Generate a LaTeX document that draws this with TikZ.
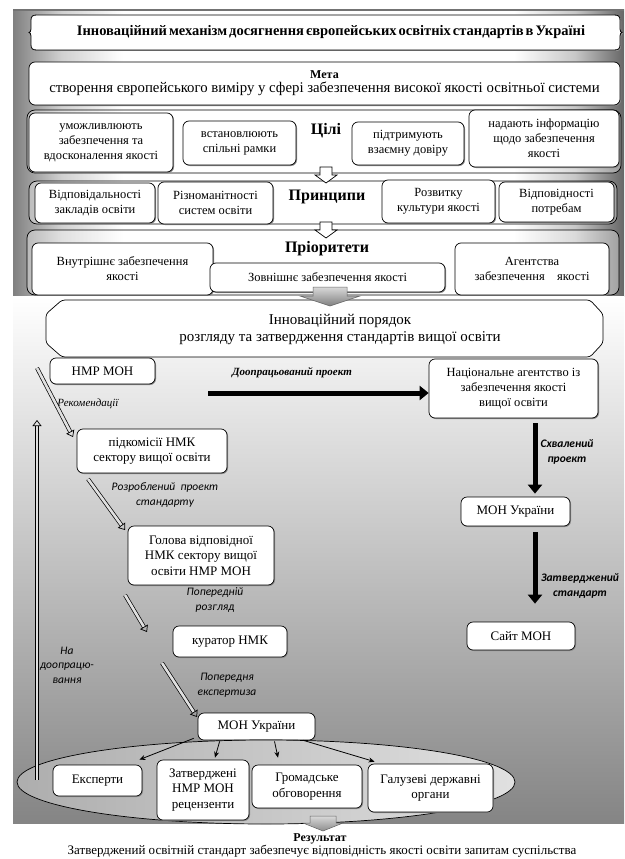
\documentclass[tikz,border=0pt]{standalone}
\usepackage{fontspec}
\setmainfont{Liberation Serif}
\newfontfamily\serifR{Liberation Serif}
\newfontfamily\labfont{Carlito}
\usetikzlibrary{arrows.meta,shadows,calc,shapes.geometric}
\pgfdeclarehorizontalshading{topsh}{100bp}{color(0bp)=(black!50); color(25bp)=(black!50); color(29bp)=(black!18); color(34bp)=(white); color(66bp)=(white); color(71bp)=(black!22); color(75bp)=(black!60); color(100bp)=(black!60)}
\tikzset{
 box/.style={draw, fill=white, rounded corners=6pt, line width=0.7pt, align=center, inner sep=1pt,
   general shadow={fill=black!45, shadow xshift=1pt, shadow yshift=-1pt}},
 framebox/.style={draw, rounded corners=8pt, line width=0.7pt, fill=white, fill opacity=0.35},
 tA/.style={font=\serifR\fontsize{12.5}{15}\selectfont},
 tB/.style={font=\serifR\fontsize{13}{15.5}\selectfont},
 head/.style={font=\serifR\bfseries\fontsize{16}{18}\selectfont},
 lab/.style={font=\labfont\itshape\fontsize{11.5}{14.5}\selectfont, align=center},
 labb/.style={font=\labfont\bfseries\itshape\fontsize{11.5}{15}\selectfont, align=center},
 thickarr/.style={line width=5pt, -{Triangle[length=9pt,width=14pt]}},
 hollowarr/.style={double=black!12, double distance=2.6pt, line width=0.7pt, -{Triangle[open,length=6pt,width=9pt]}},
 thinarr/.style={line width=0.8pt, -{Stealth[length=6pt,width=5pt]}},
}
\newcommand\tightsp{\spaceskip=2pt plus 1pt\relax}
\begin{document}
\begin{tikzpicture}[x=1pt,y=-1pt]
\useasboundingbox (0,0) rectangle (624,859);
\fill[white] (0,0) rectangle (624,859);
% ---------- top panel
\shade[shading=topsh] (13,10) rectangle (624,296);
\draw[black!55, line width=1.5pt] (13,10) -- (624,10);
% title
\draw[fill=white, line width=0.8pt,
   general shadow={fill=black!40, shadow xshift=1pt, shadow yshift=-1pt}]
 (37,15) -- (614,15) .. controls (618,15) and (620,16) .. (620,20) -- (620,29)
 .. controls (620,31) and (621,32.5) .. (622,32.5) .. controls (621,32.5) and (620,34) .. (620,36)
 -- (620,45) .. controls (620,49) and (618,50) .. (614,50) -- (37,50)
 .. controls (33,50) and (31,49) .. (31,45) -- (31,36)
 .. controls (31,34) and (30,32.5) .. (29,32.5) .. controls (30,32.5) and (31,31) .. (31,29)
 -- (31,20) .. controls (31,16) and (33,15) .. (37,15) -- cycle;
\node[font=\serifR\bfseries\fontsize{14.5}{16}\selectfont] (title) at (331,32.5)
 {\tightsp Інноваційний механізм досягнення європейських освітніх стандартів в Україні};
% goal
\node[box, minimum width=591pt, minimum height=43pt, font=\serifR\fontsize{14.8}{14}\selectfont] (meta) at (324.5,83.5)
 {{\bfseries\fontsize{12}{13}\selectfont Мета}\\створення європейського виміру у сфері забезпечення високої якості освітньої системи};
% frames
\path[framebox] (27,110) rectangle (621,173);
\path[framebox] (29,181) rectangle (617,224);
\path[framebox] (27,230) rectangle (619,295);
% Цілі
\node[box, tA, minimum width=144pt, minimum height=59pt] (g1) at (101,142.5) {уможливлюють\\забезпечення та\\вдосконалення якості};
\node[box, tA, minimum width=113pt, minimum height=44pt] (g2) at (239.5,143) {встановлюють\\спільні рамки};
\node[head] (goals) at (326,131) {Цілі};
\node[box, tA, minimum width=112pt, minimum height=43pt] (g3) at (408,143.5) {підтримують\\взаємну довіру};
\node[box, tA, minimum width=150pt, minimum height=57pt] (g4) at (544,138.5) {надають інформацію\\щодо забезпечення\\якості};
\coordinate (ba1) at (326,167);
\draw[fill=white, line width=0.7pt] (ba1) ++(-6,0) -- ++(12,0) -- ++(0,8) -- ++(5,0) -- ++(-11,8) -- ++(-11,-8) -- ++(5,0) -- cycle;
% Принципи
\node[box, tA, minimum width=120pt, minimum height=40pt] (p1) at (95,203) {Відповідальності\\закладів освіти};
\node[box, tA, minimum width=115pt, minimum height=42pt] (p2) at (215.5,203) {Різноманітності\\систем освіти};
\node[head] (princ) at (327,197) {Принципи};
\node[box, tA, minimum width=113pt, minimum height=43pt] (p3) at (438.5,201.5) {Розвитку\\культури якості};
\node[box, tA, minimum width=115pt, minimum height=40pt] (p4) at (556.5,202) {Відповідності\\потребам};
\coordinate (ba2) at (326,222);
\draw[fill=white, line width=0.7pt] (ba2) ++(-6,0) -- ++(12,0) -- ++(0,8) -- ++(5,0) -- ++(-11,8) -- ++(-11,-8) -- ++(5,0) -- cycle;
% Пріоритети
\node[head] (prio) at (327,249) {Пріоритети};
\node[box, tA, minimum width=181pt, minimum height=52pt] (r1) at (122.5,269) {Внутрішнє забезпечення\\якості};
\node[box, tA, minimum width=235pt, minimum height=29pt] (r2) at (327.5,277.5) {Зовнішнє забезпечення якості};
\node[box, tA, minimum width=154pt, minimum height=52pt] (r3) at (532,269) {Агентства\\забезпечення\quad якості};
% ---------- bottom panel
\shade[top color=white, bottom color=black!48] (13,296) rectangle (624,823);
\draw[fill=white, line width=0.7pt, rounded corners=3pt]
 (62,300) -- (590,300) -- (603,314) -- (603,343) -- (590,357) -- (62,357) -- (46,343) -- (46,314) -- cycle;
\node[font=\serifR\fontsize{15}{17}\selectfont, align=center] (proc) at (340,329)
 {Інноваційний порядок\\розгляду та затвердження стандартів вищої освіти};
\coordinate (ba3) at (330,287);
\draw[top color=black!15, bottom color=black!50, line width=0.5pt, draw=black!60]
 (ba3) ++(-17,0) -- ++(34,0) -- ++(0,9) -- ++(13,0) -- ++(-30,10) -- ++(-30,-10) -- ++(13,0) -- cycle;
% left flow
\node[box, tB, minimum width=105pt, minimum height=26pt] (nmr) at (102.5,371) {НМР МОН};
\node[box, tB, minimum width=150pt, minimum height=44pt] (pidk) at (152,451) {підкомісії НМК\\сектору вищої освіти};
\node[box, tB, minimum width=146pt, minimum height=59pt] (holova) at (201,555.5) {Голова відповідної\\НМК сектору вищої\\освіти НМР МОН};
\node[box, tB, minimum width=114pt, minimum height=31pt] (kur) at (230,641.5) {куратор НМК};
\node[box, tB, minimum width=117pt, minimum height=27pt] (mon1) at (256.5,726.5) {МОН України};
% right flow
\node[box, tA, minimum width=169pt, minimum height=59pt] (nat) at (513.5,388.5) {Національне агентство із\\забезпечення якості\\вищої освіти};
\node[box, tB, minimum width=109pt, minimum height=29pt] (mon2) at (515.5,511.5) {МОН України};
\node[box, tB, minimum width=108pt, minimum height=28pt] (sait) at (521,636) {Сайт МОН};
% labels
\node[font=\serifR\bfseries\itshape\fontsize{11}{13}\selectfont] (dopr) at (292,373) {Доопрацьований проект};
\node[font=\serifR\itshape\fontsize{11}{13}\selectfont] (rek) at (88,404) {Рекомендації};
\node[lab] (rozr) at (165,495) {Розроблений\ \ проект\\стандарту};
\node[lab] (poper) at (215,600) {Попередній\\розгляд};
\node[lab] (popexp) at (227,685) {Попередня\\експертиза};
\node[lab] (nadopr) at (67,665) {На\\доопрацю-\\вання};
\node[labb] (skhv) at (567,452) {Схвалений\\проект};
\node[labb] (zatst) at (580,586) {Затверджений\\стандарт};
% thick arrows
\coordinate (h0) at (208,393);
\draw[thickarr] (h0) -- (h0 -| nat.west);
\coordinate (ax) at (535,0);
\draw[thickarr, shorten <=5pt, shorten >=3pt] (nat.south -| ax) -- (mon2.north -| ax);
\draw[thickarr, shorten <=6pt, shorten >=18pt] (mon2.south -| ax) -- (sait.north -| ax);
% ellipse and boxes
\node[ellipse, draw, line width=0.7pt, left color=black!32, right color=black!12, minimum width=498pt, minimum height=84pt] (ell) at (266,782) {};
\node[box, tB, minimum width=89pt, minimum height=31pt] (eksp) at (97.5,780.5) {Експерти};
\node[box, tB, minimum width=92pt, minimum height=60pt] (zatv) at (203,790) {Затверджені\\НМР МОН\\рецензенти};
\node[box, tB, minimum width=110pt, minimum height=43pt] (hrom) at (307,786.5) {Громадське\\обговорення};
\node[box, tB, minimum width=125pt, minimum height=48pt] (haluz) at (430.5,788) {Галузеві державні\\органи};
\draw[thinarr] ($(mon1.south west)+(-4,-2)$) -- ($(eksp.north east)+(-3,-5)$);
\draw[thinarr] ($(mon1.south west)+(22,1)$) -- ($(zatv.north)+(12,-2)$);
\draw[thinarr] ($(mon1.south)+(18,1)$) -- ($(hrom.north)+(-29,-7)$);
\draw[thinarr] ($(mon1.south east)+(-12,0)$) -- ($(haluz.north west)+(7,-2)$);
% hollow arrows
\coordinate (v0) at (37,780); \coordinate (v1) at (37,420);
\draw[hollowarr] (v0) -- (v1);
\coordinate (a1) at (37,368); \coordinate (a1e) at (73,437);
\draw[hollowarr] (a1) -- (a1e);
\coordinate (a2) at (88,479); \coordinate (a2e) at (125,530);
\draw[hollowarr] (a2) -- (a2e);
\coordinate (a3) at (125,595); \coordinate (a3e) at (147,632);
\draw[hollowarr] (a3) -- (a3e);
\coordinate (a4) at (162,663); \coordinate (a4e) at (197,717);
\draw[hollowarr] (a4) -- (a4e);
% result
\coordinate (ba4) at (323,816);
\draw[top color=black!15, bottom color=black!45, line width=0.5pt, draw=black!60]
 (ba4) ++(-13,0) -- ++(26,0) -- ++(0,7) -- ++(7,0) -- ++(-20,8) -- ++(-20,-8) -- ++(7,0) -- cycle;
\node[font=\serifR\bfseries\fontsize{12}{14}\selectfont] (res) at (320,839) {Результат};
\node[font=\serifR\fontsize{13}{15}\selectfont] (restext) at (322,851.5) {Затверджений освітній стандарт забезпечує відповідність якості освіти запитам суспільства};
\end{tikzpicture}
\end{document}
